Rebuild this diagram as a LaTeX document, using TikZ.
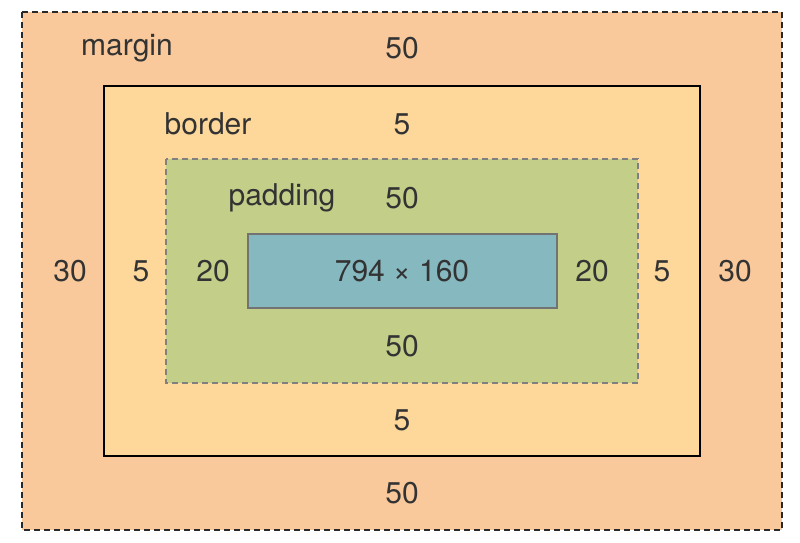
\documentclass[tikz,border=0pt]{standalone}
\usepackage{fontspec}
\setmainfont{TeX Gyre Heros}
\definecolor{marg}{HTML}{F9C89B}
\definecolor{bord}{HTML}{FDD89A}
\definecolor{padc}{HTML}{C3CE89}
\definecolor{cont}{HTML}{86B8C0}
\definecolor{txt}{HTML}{333333}
\begin{document}
\begin{tikzpicture}[x=1pt,y=-1pt,
  lbl/.style={text=txt,font=\fontsize{30}{32}\selectfont,inner sep=0pt,anchor=center}]
\useasboundingbox (0,0) rectangle (800,542);
\fill[white] (0,0) rectangle (800,542);
\draw[fill=marg,draw=txt!80!black,line width=2pt,dash pattern=on 6pt off 4pt] (22,12) rectangle (782,530);
\draw[fill=bord,draw=black,line width=2.5pt] (104,86) rectangle (700,456);
\draw[fill=padc,draw=gray,line width=2.5pt,dash pattern=on 6pt off 4pt] (166,159) rectangle (638,383);
\draw[fill=cont,draw=gray!90!black,line width=2.5pt] (248,234) rectangle (557,308);
\node[lbl] (m) at (127,48) {margin};
\node[lbl] (mt) at (402,48) {50};
\node[lbl] (b) at (208,124) {border};
\node[lbl] (bt) at (402,124) {5};
\node[lbl] (p) at (282,198) {padding};
\node[lbl] (pt) at (402,198) {50};
\node[lbl] (ml) at (70,271) {30};
\node[lbl] (bl) at (141,271) {5};
\node[lbl] (pl) at (213,271) {20};
\node[lbl] (c) at (402,271) {794 × 160};
\node[lbl] (pr) at (592,271) {20};
\node[lbl] (br) at (662,271) {5};
\node[lbl] (mr) at (735,271) {30};
\node[lbl] (pb) at (402,346) {50};
\node[lbl] (bb) at (402,420) {5};
\node[lbl] (mb) at (402,493) {50};
\end{tikzpicture}
\end{document}
